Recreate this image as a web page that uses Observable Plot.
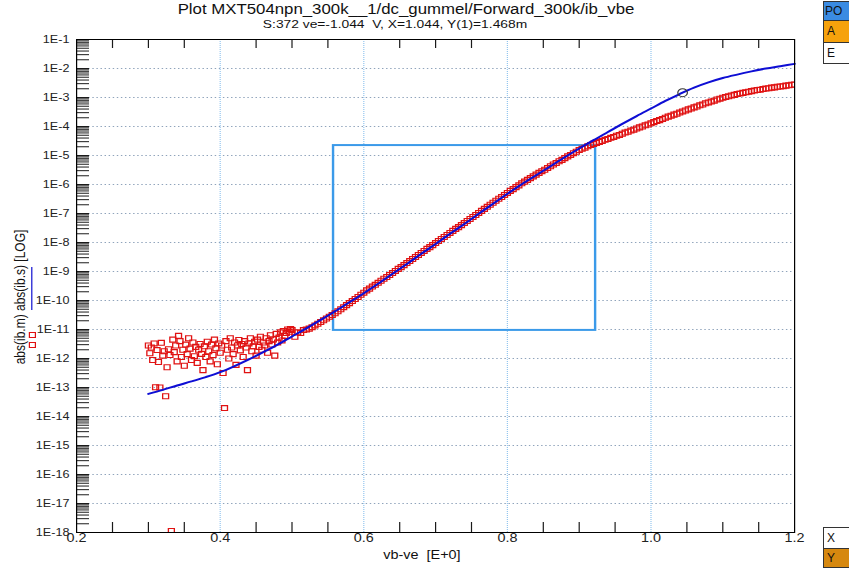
<!DOCTYPE html>
<html>
<head>
<meta charset="utf-8">
<script src="https://cdn.jsdelivr.net/npm/d3@7"></script>
<script src="https://cdn.jsdelivr.net/npm/@observablehq/plot@0.6"></script>
<style>
  html, body { margin: 0; padding: 0; background: #fff; }
  #stage { position: relative; width: 849px; height: 575px; overflow: hidden; background: #fff;
           font-family: "Liberation Sans", Arial, Helvetica, sans-serif; color: #111; }
  /* the whole drawing is laid out on a narrower canvas and widened horizontally */
  #canvas { position: absolute; left: 0; top: 0; height: 575px; transform-origin: 0 0; }
  #canvas svg { position: absolute; left: 0; top: 0; overflow: visible; }
  .title { position: absolute; top: 0px; text-align: center; font-size: 14px; white-space: pre; line-height: 18px; }
  .subtitle { position: absolute; top: 17px; text-align: center; font-size: 11.5px; white-space: pre; line-height: 14px; }
  .ylab { position: absolute; font-size: 12px; white-space: pre; line-height: 14px;
          transform: translate(-50%, -50%) rotate(-90deg); }
  .swatch-line { position: absolute; width: 1.6px; background: #1010d0; }
  .swatch-sq { position: absolute; width: 4px; height: 4px; border: 1px solid #e01010; }
  .btn { position: absolute; left: 823px; width: 30px; box-sizing: border-box; border: 1px solid #333;
         font-size: 12px; padding-left: 3px; }
</style>
</head>
<body>
<div id="stage">
  <div id="canvas"></div>
  <div class="btn" style="top:1px;height:20px;line-height:18px;background:#3a8be2;padding-left:1px;">PO</div>
  <div class="btn" style="top:20px;height:23px;line-height:21px;background:#f6a20c;">A</div>
  <div class="btn" style="top:42px;height:22px;line-height:20px;background:#fff;">E</div>
  <div class="btn" style="top:527px;height:22px;line-height:20px;background:#fff;">X</div>
  <div class="btn" style="top:548px;height:20px;line-height:18px;background:#d6880f;">Y</div>
</div>
<script>
// ---- Forward Gummel sweep of MXT504npn_300k: base current vs vb-ve ----

// measured |ib| (log10 A), low-bias part of the sweep: 0.300 V .. 0.500 V in 2 mV steps
const measLowStart = 0.300, measLowStep = 0.002;
const ibMeasLowLog = [
  -11.55, -11.82, -11.62, -12.05, -11.48, -12.99, -11.71, -12.12, -13.00, -11.46,
  -11.90, -11.75, -13.30, -12.30, -11.68, -11.88, -17.95, -11.35, -11.78, -11.55,
  -12.10, -11.22, -11.40, -11.95, -11.70, -12.25, -11.52, -11.85, -11.30, -11.66,
  -12.05, -11.45, -11.92, -11.60, -12.15, -11.70, -11.50, -11.84, -12.40, -11.58,
  -11.95, -11.42, -11.75, -12.10, -11.52, -11.88, -11.35, -11.65, -12.20, -11.48,
  -11.80, -11.55, -12.50, -13.71, -11.40, -11.70, -12.00, -11.30, -11.62, -11.85,
  -11.45, -12.22, -11.55, -11.36, -11.72, -11.50, -11.95, -11.40, -11.62, -12.40,
  -11.48, -11.30, -11.75, -11.58, -11.42, -11.90, -11.35, -11.60, -11.25, -11.70,
  -11.45, -11.55, -11.30, -11.80, -11.40, -11.20, -11.52, -11.34, -11.90, -11.15,
  -11.45, -11.28, -11.10, -11.38, -11.05, -11.22, -11.12, -11.00, -11.08, -10.98,
  -11.02
];

// measured |ib| (log10 A), 0.504 V .. 1.200 V in 4 mV steps
const measHighStart = 0.504, measHighStep = 0.004;
const ibMeasHighLog = [
  -11.25, -11.10, -11.12, -11.02, -11.00,
  -10.97, -10.92, -10.86, -10.80, -10.74,
  -10.68, -10.62, -10.56, -10.50, -10.44,
  -10.37, -10.30, -10.23, -10.16, -10.09,
  -10.02,  -9.95,  -9.88,  -9.80,  -9.73,
   -9.65,  -9.59,  -9.52,  -9.46,  -9.39,
   -9.32,  -9.25,  -9.19,  -9.12,  -9.05,
   -8.98,  -8.91,  -8.85,  -8.78,  -8.71,
   -8.64,  -8.57,  -8.50,  -8.43,  -8.36,
   -8.29,  -8.22,  -8.16,  -8.09,  -8.02,
   -7.95,  -7.88,  -7.81,  -7.74,  -7.67,
   -7.60,  -7.53,  -7.47,  -7.40,  -7.33,
   -7.26,  -7.19,  -7.12,  -7.05,  -6.98,
   -6.91,  -6.84,  -6.77,  -6.70,  -6.63,
   -6.56,  -6.49,  -6.43,  -6.36,  -6.29,
   -6.22,  -6.16,  -6.09,  -6.03,  -5.96,
   -5.90,  -5.84,  -5.78,  -5.72,  -5.66,
   -5.60,  -5.54,  -5.49,  -5.43,  -5.37,
   -5.31,  -5.26,  -5.20,  -5.15,  -5.09,
   -5.03,  -4.98,  -4.92,  -4.87,  -4.81,
   -4.77,  -4.73,  -4.68,  -4.64,  -4.60,
   -4.57,  -4.53,  -4.50,  -4.46,  -4.43,
   -4.39,  -4.36,  -4.32,  -4.29,  -4.25,
   -4.21,  -4.18,  -4.14,  -4.11,  -4.07,
   -4.03,  -4.00,  -3.96,  -3.93,  -3.89,
   -3.85,  -3.81,  -3.78,  -3.74,  -3.70,
   -3.66,  -3.63,  -3.59,  -3.56,  -3.52,
   -3.48,  -3.45,  -3.41,  -3.38,  -3.34,
   -3.31,  -3.27,  -3.24,  -3.20,  -3.17,
   -3.14,  -3.11,  -3.07,  -3.04,  -3.01,
   -2.98,  -2.96,  -2.93,  -2.91,  -2.88,
   -2.86,  -2.84,  -2.82,  -2.80,  -2.78,
   -2.76,  -2.74,  -2.73,  -2.71,  -2.69,
   -2.68,  -2.66,  -2.65,  -2.63,  -2.62,
   -2.61,  -2.59,  -2.58,  -2.56,  -2.55
];

// simulated |ib| (log10 A)
const vbeSim = [
  0.30, 0.32, 0.34, 0.36, 0.38, 0.40, 0.42, 0.44, 0.46, 0.48,
  0.50, 0.52, 0.54, 0.56, 0.58, 0.60, 0.62, 0.64, 0.66, 0.68,
  0.70, 0.72, 0.74, 0.76, 0.78, 0.80, 0.82, 0.84, 0.86, 0.88,
  0.90, 0.92, 0.94, 0.96, 0.98, 1.00, 1.02, 1.04, 1.06, 1.08,
  1.10, 1.12, 1.14, 1.16, 1.18, 1.20
];
const ibSimLog = [
  -13.22, -13.08, -12.93, -12.79, -12.64, -12.47, -12.26, -12.03, -11.78, -11.52,
  -11.24, -10.96, -10.67, -10.37, -10.06,  -9.75,  -9.42,  -9.08,  -8.74,  -8.39,
   -8.05,  -7.70,  -7.36,  -7.01,  -6.66,  -6.32,  -5.99,  -5.68,  -5.37,  -5.06,
   -4.76,  -4.47,  -4.19,  -3.91,  -3.64,  -3.38,  -3.12,  -2.88,  -2.66,  -2.48,
   -2.33,  -2.21,  -2.10,  -2.00,  -1.92,  -1.84
];

// fit window and cursor readout
const fitWindow = { vbe1: 0.558, vbe2: 0.923, ib1: 9.3e-12, ib2: 2.2e-5 };
const cursor = { vbe: 1.044, ib: 1.468e-3 };

// axes
const xTickValues = [0.2, 0.4, 0.6, 0.8, 1.0, 1.2];
const xTickLabels = ["0.2", "0.4", "0.6", "0.8", "1.0", "1.2"];
const xMinorTicks = [0.25, 0.30, 0.35, 0.45, 0.50, 0.55, 0.65, 0.70, 0.75, 0.85, 0.90, 0.95, 1.05, 1.10, 1.15];
const yDecadeExp = [-18, -17, -16, -15, -14, -13, -12, -11, -10, -9, -8, -7, -6, -5, -4, -3, -2, -1];
const yTickLabels = ["1E-18", "1E-17", "1E-16", "1E-15", "1E-14", "1E-13", "1E-12", "1E-11", "1E-10",
                     "1E-9", "1E-8", "1E-7", "1E-6", "1E-5", "1E-4", "1E-3", "1E-2", "1E-1"];

const titleText = "Plot MXT504npn_300k__1/dc_gummel/Forward_300k/ib_vbe";
const subtitleText = "S:372 ve=-1.044  V, X=1.044, Y(1)=1.468m";
const xLabel = "vb-ve  [E+0]";
const yLabel = "abs(ib.m) abs(ib.s) [LOG]";

// ---- tables for the marks ----
const measured = [
  ...ibMeasLowLog.map((d, i) => ({ vbe: measLowStart + measLowStep * i, ib: Math.pow(10, d) })),
  ...ibMeasHighLog.map((d, i) => ({ vbe: measHighStart + measHighStep * i, ib: Math.pow(10, d) }))
];
const simulated = vbeSim.map((v, i) => ({ vbe: v, ib: Math.pow(10, ibSimLog[i]) }));
const yTicks = yDecadeExp.map((e, i) => ({ v: Math.pow(10, e), label: yTickLabels[i] }));
const xTicks = xTickValues.map((v, i) => ({ v, label: xTickLabels[i] }));
const yGrid = yDecadeExp.slice(1, -1).map(e => Math.pow(10, e));
const yMinor = [];
for (const e of yDecadeExp.slice(0, -1)) for (let m = 1; m <= 9; m++) if (!(m === 1 && e === -18)) yMinor.push(m * Math.pow(10, e));
const xGrid = [0.4, 0.6, 0.8, 1.0];

// ---- geometry ----
const W = 849, H = 575, SX = 1.2;           // horizontal widening factor
const cw = W / SX;
const mL = 76 / SX, mR = 55 / SX, mT = 39, mB = 43;
const innerW = cw - mL - mR, innerH = H - mT - mB;

const chart = Plot.plot({
  width: cw,
  height: H,
  marginLeft: mL, marginRight: mR, marginTop: mT, marginBottom: mB,
  x: { domain: [0.2, 1.2], axis: null },
  y: { type: "log", domain: [1e-18, 1e-1], axis: null },
  style: { background: "transparent", fontFamily: "'Liberation Sans', Arial, sans-serif", color: "#111" },
  marks: [
    Plot.ruleY(yGrid, { stroke: "#8fa3bb", strokeWidth: 1, strokeDasharray: "1.2,2.2" }),
    Plot.ruleX(xGrid, { stroke: "#94c6ef", strokeWidth: 1, strokeDasharray: "1,1" }),
    Plot.ruleY(yMinor, { stroke: "#1a1a1a", strokeWidth: 1, insetRight: innerW - 13 / SX }),
    Plot.ruleX(xMinorTicks, { stroke: "#1a1a1a", strokeWidth: 1, insetTop: innerH - 10 }),
    Plot.ruleX(xMinorTicks, { stroke: "#1a1a1a", strokeWidth: 1, insetBottom: innerH - 9 }),
    Plot.rect([fitWindow], { x1: "vbe1", x2: "vbe2", y1: "ib1", y2: "ib2", fill: "none", stroke: "#3b9ae9", strokeWidth: 2 }),
    Plot.dot(measured, { x: "vbe", y: "ib", symbol: "square", r: 2.8, fill: "none", stroke: "#e01212", strokeWidth: 1.1, clip: true }),
    Plot.line(simulated, { x: "vbe", y: "ib", stroke: "#0e0ed4", strokeWidth: 2, curve: "monotone-x" }),
    Plot.dot([cursor], { x: "vbe", y: "ib", r: 4, fill: "none", stroke: "#333", strokeWidth: 1 }),
    Plot.frame({ stroke: "#000", strokeWidth: 1 }),
    Plot.text(yTicks, { frameAnchor: "left", y: "v", text: "label", textAnchor: "end", dx: -6, fontSize: 10.5, fill: "#222" }),
    Plot.text(xTicks, { x: "v", frameAnchor: "bottom", text: "label", dy: 9, fontSize: 12, fill: "#222" })
  ]
});

const canvas = document.getElementById("canvas");
canvas.style.width = cw + "px";
canvas.style.transform = `scaleX(${SX})`;
canvas.appendChild(chart);

function addDiv(cls, text, css) {
  const d = document.createElement("div");
  d.className = cls;
  if (text != null) d.textContent = text;
  Object.assign(d.style, css);
  canvas.appendChild(d);
  return d;
}
// title block, centred over the plot
addDiv("title", titleText, { left: "0px", width: (812 / SX) + "px" });
addDiv("subtitle", subtitleText, { left: "0px", width: (790 / SX) + "px" });
// x axis label
addDiv("subtitle", xLabel, { left: "0px", width: (844 / SX) + "px", top: "548px", fontSize: "12px" });
// y axis label with series swatches
addDiv("ylab", yLabel, { left: (20 / SX) + "px", top: "297px" });
addDiv("swatch-line", null, { left: (32 / SX - 0.8) + "px", top: "267px", height: "43px" });
addDiv("swatch-sq", null, { left: (32 / SX - 3) + "px", top: "332px" });
addDiv("swatch-sq", null, { left: (32 / SX - 3) + "px", top: "342px" });
</script>
</body>
</html>
